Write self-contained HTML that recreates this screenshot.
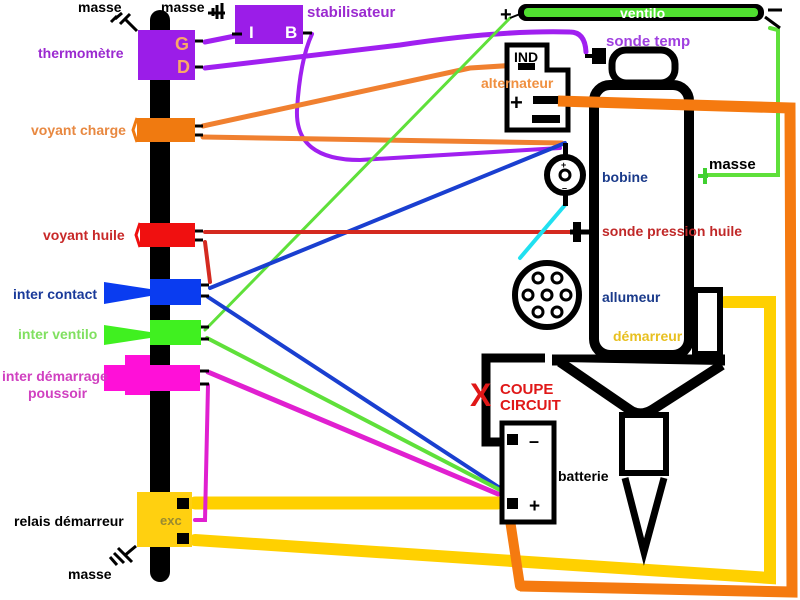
<!DOCTYPE html>
<html><head><meta charset="utf-8"><style>
html,body{margin:0;padding:0;background:#fff;}
svg{display:block;font-family:"Liberation Sans",sans-serif;font-weight:bold;}
</style></head><body>
<svg width="800" height="600" viewBox="0 0 800 600" xmlns="http://www.w3.org/2000/svg">
<rect width="800" height="600" fill="#fff"/>
<g fill="none" stroke-linecap="round">
<path d="M195,540 L770,578 L770,302 L725,302" stroke="#ffd000" stroke-width="12"/>
<path d="M195,503 L498,503" stroke="#ffd000" stroke-width="13"/>
<path d="M520,586 L510,520" stroke="#f57a10" stroke-width="10"/>
<path d="M770,28 L778,30 L778,175 L705,175" stroke="#5fe03a" stroke-width="4"/>
<path d="M205,42 L245,34" stroke="#a020f0" stroke-width="5"/>
<path d="M205,68 L400,45 Q500,30 570,32 Q585,32 586,52" stroke="#a020f0" stroke-width="5"/>
<path d="M312,34 Q300,60 297,110 Q295,160 360,160 L560,148" stroke="#a020f0" stroke-width="4"/>
<path d="M203,126 L470,68 L518,65" stroke="#f08030" stroke-width="5"/>
<path d="M203,137 L562,143" stroke="#f08030" stroke-width="5"/>
<path d="M205,330 L510,18" stroke="#5fe03a" stroke-width="3"/>
<path d="M210,288 L565,143" stroke="#1a3fd0" stroke-width="4"/>
<path d="M205,232 L572,232" stroke="#d42a20" stroke-width="4"/>
<path d="M205,242 L210,282" stroke="#d42a20" stroke-width="4"/>
<path d="M208,297 L500,488" stroke="#1a3fd0" stroke-width="4"/>
<path d="M207,338 L500,490" stroke="#5fe03a" stroke-width="4"/>
<path d="M208,372 L498,494" stroke="#e020d0" stroke-width="5"/>
<path d="M208,385 L205,520 L195,520" stroke="#e020d0" stroke-width="4"/>
<path d="M565,205 L520,258" stroke="#20e0f0" stroke-width="4"/>
</g>
<rect x="150" y="10" width="20" height="572" rx="10" fill="#000"/>
<rect x="138" y="30" width="57" height="50" fill="#9b1de8"/>
<text x="175" y="50" font-size="18" fill="#f8a868">G</text>
<text x="177" y="73" font-size="18" fill="#f8a868">D</text>
<path d="M195,41h8M195,67h8" stroke="#000" stroke-width="3"/>
<text x="38" y="58" font-size="14" fill="#9b2ad0">thermomètre</text>
<rect x="235" y="5" width="68" height="39" fill="#9b1de8"/>
<text x="249" y="38" font-size="17" fill="#fff">I</text>
<text x="285" y="38" font-size="17" fill="#fff">B</text>
<path d="M232,34h10M303,33h9" stroke="#000" stroke-width="3"/>
<text x="307" y="17" font-size="15" fill="#9b2ad0">stabilisateur</text>
<text x="78" y="12" font-size="14" fill="#000">masse</text>
<text x="161" y="12" font-size="14" fill="#000">masse</text>
<path d="M137,31 L126,20 M120,24 L130,14 M115,19 L122,13 M111,22 L117,16" stroke="#000" stroke-width="3"/>
<path d="M208,13h17 M222,3v16 M217,5v14 M213,8v8" stroke="#000" stroke-width="3"/>
<rect x="137" y="118" width="58" height="24" fill="#f07a10"/>
<path d="M137,118 L133,130 L137,142" stroke="#f07a10" stroke-width="3" fill="none"/>
<path d="M195,126h8M195,135h8" stroke="#000" stroke-width="3"/>
<text x="31" y="135" font-size="14" fill="#e88840">voyant charge</text>
<rect x="140" y="223" width="55" height="24" fill="#f01010"/>
<path d="M140,223 L136,235 L140,247" stroke="#f01010" stroke-width="3" fill="none"/>
<path d="M195,231h8M195,240h8" stroke="#000" stroke-width="3"/>
<text x="43" y="240" font-size="14" fill="#c82828">voyant huile</text>
<polygon points="104,282 150,289 150,296 104,304" fill="#0a3cf0"/>
<rect x="150" y="279" width="51" height="26" fill="#0a3cf0"/>
<path d="M201,285h8M201,296h8" stroke="#000" stroke-width="3"/>
<text x="13" y="299" font-size="14" fill="#1a3a9a">inter contact</text>
<polygon points="104,325 150,332 150,338 104,345" fill="#40f020"/>
<rect x="150" y="320" width="51" height="25" fill="#40f020"/>
<path d="M201,327h8M201,339h8" stroke="#000" stroke-width="3"/>
<text x="18" y="339" font-size="14" fill="#80e060">inter ventilo</text>
<rect x="125" y="355" width="25" height="40" fill="#ff10d8"/>
<rect x="104" y="365" width="96" height="26" fill="#ff10d8"/>
<path d="M200,371h9M200,384h9" stroke="#000" stroke-width="3"/>
<text x="2" y="381" font-size="14" fill="#d040c0">inter démarrage</text>
<text x="28" y="398" font-size="14" fill="#d040c0">poussoir</text>
<rect x="137" y="492" width="55" height="55" fill="#ffd010"/>
<rect x="177" y="498" width="12" height="11" fill="#000"/>
<rect x="177" y="533" width="12" height="11" fill="#000"/>
<text x="160" y="525" font-size="13" fill="#9a8a30">exc</text>
<text x="14" y="526" font-size="14" fill="#000">relais démarreur</text>
<text x="68" y="579" font-size="14" fill="#000">masse</text>
<path d="M136,546 L124,556 M118,548 L132,562 M114,553 L124,563 M110,557 L117,565" stroke="#000" stroke-width="3"/>
<rect x="518" y="4" width="246" height="17" rx="8" fill="#000"/>
<rect x="524" y="8" width="234" height="9" rx="4" fill="#50e030"/>
<text x="620" y="18" font-size="14" fill="#fff">ventilo</text>
<text x="500" y="21" font-size="20" fill="#000">+</text>
<path d="M768,10h14M765,17 L780,28" stroke="#000" stroke-width="3"/>
<path d="M510,18 L520,14" stroke="#000" stroke-width="2"/>
<polygon points="507,45 547,45 547,70 568,70 568,130 507,130" fill="#fff" stroke="#000" stroke-width="5"/>
<text x="514" y="62" font-size="14" fill="#000">IND</text>
<rect x="518" y="63" width="17" height="7" fill="#000"/>
<text x="510" y="110" font-size="22" fill="#000">+</text>
<rect x="533" y="96" width="27" height="8" fill="#000"/>
<rect x="532" y="115" width="28" height="8" fill="#000"/>
<text x="481" y="88" font-size="14" fill="#f09040">alternateur</text>
<rect x="612" y="50" width="63" height="33" rx="14" fill="#fff" stroke="#000" stroke-width="7"/>
<rect x="594" y="85" width="95" height="270" rx="16" fill="#fff" stroke="#000" stroke-width="10"/>
<path d="M558,101 L790,108 L792,592 L520,586" fill="none" stroke="#f57a10" stroke-width="11"/>
<rect x="592" y="48" width="14" height="16" fill="#000"/>
<path d="M585,56h8" stroke="#000" stroke-width="4"/>
<text x="606" y="46" font-size="15" fill="#a040e0">sonde temp</text>
<rect x="695" y="290" width="25" height="64" fill="#fff" stroke="#000" stroke-width="6"/>
<path d="M733,302 L764,302" stroke="#ffd000" stroke-width="10"/>
<text x="613" y="341" font-size="14" fill="#e8c020">démarreur</text>
<path d="M552,360 L725,360" stroke="#000" stroke-width="11"/>
<path d="M560,362 L630,410 Q640,417 652,410 L722,365" fill="#fff" stroke="#000" stroke-width="10"/>
<rect x="622" y="415" width="44" height="58" fill="#fff" stroke="#000" stroke-width="6"/>
<path d="M625,478 L644,552 L664,478" fill="none" stroke="#000" stroke-width="7"/>
<text x="709" y="169" font-size="15" fill="#000">masse</text>
<path d="M705,168v16M698,176h10" stroke="#40d030" stroke-width="4"/>
<circle cx="565" cy="175" r="18" fill="#fff" stroke="#000" stroke-width="6"/>
<rect x="563" y="143" width="5" height="14" fill="#000"/>
<rect x="563" y="192" width="5" height="14" fill="#000"/>
<circle cx="565" cy="175" r="5" fill="none" stroke="#000" stroke-width="3"/>
<text x="561" y="168" font-size="9" fill="#000">+</text>
<text x="562" y="191" font-size="9" fill="#000">–</text>
<text x="602" y="182" font-size="14" fill="#1a3a8a">bobine</text>
<rect x="573" y="222" width="8" height="20" fill="#000"/>
<path d="M570,232h20" stroke="#000" stroke-width="5"/>
<text x="602" y="236" font-size="14" fill="#c02828">sonde pression huile</text>
<circle cx="547" cy="295" r="32" fill="#fff" stroke="#000" stroke-width="6"/>
<g fill="none" stroke="#000" stroke-width="3">
<circle cx="538" cy="278" r="5"/><circle cx="557" cy="278" r="5"/>
<circle cx="528" cy="295" r="5"/><circle cx="547" cy="295" r="5"/><circle cx="566" cy="295" r="5"/>
<circle cx="538" cy="312" r="5"/><circle cx="557" cy="312" r="5"/>
</g>
<text x="602" y="302" font-size="14" fill="#1a3a8a">allumeur</text>
<path d="M545,358 L486,358 L486,442 L505,442" fill="none" stroke="#000" stroke-width="9"/>
<text x="470" y="406" font-size="32" fill="#e01818">X</text>
<text x="500" y="394" font-size="15" fill="#e01818">COUPE</text>
<text x="500" y="410" font-size="15" fill="#e01818">CIRCUIT</text>
<rect x="502" y="423" width="52" height="99" fill="#fff" stroke="#000" stroke-width="5"/>
<rect x="507" y="434" width="11" height="11" fill="#000"/>
<rect x="507" y="498" width="11" height="11" fill="#000"/>
<text x="529" y="447" font-size="18" fill="#000">–</text>
<text x="529" y="512" font-size="19" fill="#000">+</text>
<text x="558" y="481" font-size="14" fill="#000">batterie</text>
</svg>
</body></html>
